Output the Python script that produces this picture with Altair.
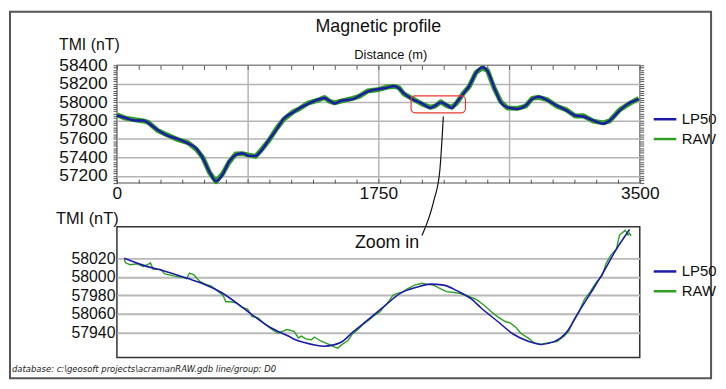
import altair as alt
import pandas as pd

# ---------------- data ----------------
SERIES = ["LP50", "RAW"]
COLORS = ["#1b1ba8", "#2f9e22"]

TOP_DIST = [0, 55, 121, 177, 210, 276, 331, 398, 475, 530, 575, 618, 663, 707, 751, 795,
            840, 884, 928, 961, 1016, 1072, 1116, 1182, 1213, 1279, 1357, 1390, 1423, 1456,
            1500, 1578, 1622, 1677, 1743, 1810, 1854, 1887, 1920, 1975, 2042, 2097, 2130,
            2168, 2207, 2241, 2274, 2318, 2358, 2404, 2448, 2481, 2526, 2570, 2614, 2680,
            2736, 2780, 2824, 2879, 2945, 3011, 3067, 3122, 3189, 3255, 3299, 3365, 3420, 3493]
TOP_LP50 = [57855, 57830, 57801, 57801, 57772, 57694, 57641, 57605, 57552, 57498, 57391, 57248,
            57141, 57213, 57355, 57427, 57445, 57416, 57416, 57462, 57587, 57712, 57819, 57890,
            57926, 57980, 58033, 58044, 58015, 57986, 58015, 58033, 58068, 58114, 58140, 58157,
            58175, 58151, 58097, 58033, 57986, 57937, 57962, 57997, 57969, 57937, 57997, 58087,
            58175, 58318, 58379, 58336, 58157, 57997, 57943, 57926, 57962, 58033, 58058, 58022,
            57962, 57908, 57855, 57844, 57801, 57766, 57801, 57908, 57980, 58033]
TOP_RAW = [57862, 57826, 57808, 57795, 57779, 57688, 57648, 57598, 57560, 57490, 57398, 57240,
           57136, 57220, 57348, 57436, 57440, 57424, 57410, 57470, 57580, 57720, 57812, 57898,
           57920, 57988, 58028, 58050, 58010, 57992, 58010, 58040, 58062, 58120, 58134, 58164,
           58170, 58158, 58090, 58040, 57980, 57944, 57956, 58004, 57962, 57944, 57990, 58094,
           58168, 58324, 58372, 58342, 58150, 58004, 57936, 57932, 57956, 58040, 58052, 58028,
           57955, 57915, 57848, 57852, 57794, 57774, 57795, 57915, 57974, 58040]

ZOOM_LP50_DIST = [1965, 1979, 1993, 2009, 2020, 2032, 2043, 2054, 2066, 2078, 2083, 2089, 2103,
                  2114, 2123, 2134, 2144, 2155, 2167, 2176, 2185, 2194, 2204, 2211, 2222, 2233,
                  2244, 2252, 2261, 2270, 2278, 2286, 2295, 2304, 2313]
ZOOM_LP50 = [58020, 58012, 58006, 57998, 57992, 57983, 57971, 57958, 57945, 57936, 57932, 57929,
             57925, 57929, 57941, 57955, 57968, 57982, 57989, 57992, 57991, 57985, 57976, 57966,
             57952, 57938, 57930, 57927, 57930, 57941, 57962, 57982, 58005, 58030, 58051]

ZOOM_RAW_DIST = [1965, 1966, 1969, 1974, 1978, 1982, 1983, 1985, 1990, 1993, 1999, 2006, 2008,
                 2010, 2013, 2017, 2021, 2025, 2029, 2033, 2035, 2038, 2042, 2046, 2050, 2053,
                 2057, 2061, 2067, 2071, 2077, 2082, 2085, 2087, 2090, 2094, 2096, 2100, 2103,
                 2106, 2110, 2112, 2115, 2119, 2122, 2126, 2129, 2134, 2137, 2141, 2144, 2147,
                 2150, 2153, 2156, 2160, 2165, 2170, 2173, 2178, 2183, 2187, 2192, 2196, 2202,
                 2208, 2213, 2218, 2222, 2227, 2231, 2235, 2238, 2243, 2247, 2252, 2257, 2263,
                 2268, 2271, 2274, 2278, 2282, 2286, 2290, 2294, 2297, 2300, 2304, 2306, 2310,
                 2312, 2313, 2314]
ZOOM_RAW = [58019, 58015, 58013, 58014, 58011, 58014, 58015, 58008, 58008, 58003, 58001, 57999,
            57998, 58004, 58002, 57995, 57992, 57990, 57985, 57980, 57973, 57973, 57972, 57967,
            57965, 57957, 57956, 57950, 57943, 57939, 57943, 57941, 57934, 57936, 57933, 57932,
            57935, 57931, 57929, 57927, 57924, 57923, 57927, 57931, 57938, 57943, 57948, 57954,
            57958, 57962, 57968, 57973, 57980, 57982, 57983, 57987, 57991, 57993, 57992, 57991,
            57987, 57984, 57983, 57982, 57979, 57975, 57969, 57962, 57957, 57952, 57950, 57945,
            57939, 57934, 57929, 57927, 57929, 57930, 57936, 57941, 57952, 57962, 57976, 57984,
            57994, 58001, 58015, 58023, 58030, 58045, 58050, 58045, 58047, 58044]

BOX_X = [1969, 2333]
BOX_Y = [57884, 58067]
CONN_X = [2185, 2161, 2121, 2042]
CONN_Y = [57844, 57249, 56926, 56550]
ZOOM_TEXT = ["Zoom in"]
ZOOM_TEXT_X = [2146]
ZOOM_TEXT_Y = [58036]

TITLE = "Magnetic profile"
X_TITLE = "Distance (m)"
Y_TITLE = "TMI (nT)"
FOOTER = ["database: c:\\geosoft projects\\acramanRAW.gdb  line/group: D0"]

X_DOMAIN = [0, 3500]
Y_DOMAIN_TOP = [57120, 58400]
X_DOMAIN_ZOOM = [1960, 2320]
Y_DOMAIN_ZOOM = [57913, 58054]
ZOOM_TICKS = [57940, 57960, 57980, 58000, 58020]

# ---------------- chart ----------------
FONT = "Liberation Sans, Arial, Helvetica, sans-serif"
W = 528
H1 = 119
H2 = 132

top_df = pd.DataFrame({
    "d": TOP_DIST + TOP_DIST,
    "v": TOP_LP50 + TOP_RAW,
    "series": ["LP50"] * len(TOP_DIST) + ["RAW"] * len(TOP_DIST),
})
zoom_df = pd.DataFrame({
    "d": ZOOM_LP50_DIST + ZOOM_RAW_DIST,
    "v": ZOOM_LP50 + ZOOM_RAW,
    "series": ["LP50"] * len(ZOOM_LP50_DIST) + ["RAW"] * len(ZOOM_RAW_DIST),
})
box_df = pd.DataFrame({"x": [BOX_X[0]], "x2": [BOX_X[1]], "y": [BOX_Y[0]], "y2": [BOX_Y[1]]})
conn_df = pd.DataFrame({"x": CONN_X, "y": CONN_Y})
text_df = pd.DataFrame({"t": ZOOM_TEXT, "x": ZOOM_TEXT_X, "y": ZOOM_TEXT_Y})
footer_df = pd.DataFrame({"t": FOOTER})
one_df = pd.DataFrame({"a": [0]})

xs = alt.Scale(domain=X_DOMAIN, nice=False, zero=False)
ys = alt.Scale(domain=Y_DOMAIN_TOP, nice=False, zero=False)
xs2 = alt.Scale(domain=X_DOMAIN_ZOOM, nice=False, zero=False)
ys2 = alt.Scale(domain=Y_DOMAIN_ZOOM, nice=False, zero=False)

x_tick_vals = [i * 875 / 6 for i in range(25)]
y_tick_vals = list(range(57125, 58401, 25))


def legend(ly):
    return alt.Legend(
        title=None, orient="none", legendX=546, legendY=ly, padding=0,
        symbolType="M-1.9,0H1.9", symbolSize=144, symbolStrokeWidth=2.5,
        labelFont=FONT, labelFontSize=15, labelColor="#111", labelOffset=9.5,
        rowPadding=4,
    )


color_top = alt.Color("series:N", scale=alt.Scale(domain=SERIES, range=COLORS), legend=legend(47))
color_zoom = alt.Color("series:N", scale=alt.Scale(domain=SERIES, range=COLORS), legend=legend(37.7))

x_bottom_axis = alt.Axis(
    orient="bottom", values=x_tick_vals,
    labelExpr="(abs(datum.value) < 1 || abs(datum.value - 1750) < 1 || abs(datum.value - 3500) < 1) ? format(datum.value, 'd') : ''",
    labelFont=FONT, labelFontSize=17.5, labelColor="#111", labelPadding=2,
    labelOverlap=False, labelFlush=False,
    tickSize=4, tickColor="#555", offset=-4, domain=False,
    grid=True, gridColor="#b4b4b4", gridWidth=1.5,
    gridOpacity={"condition": {"test": "abs(datum.value - 875) < 1 || abs(datum.value - 1750) < 1 || abs(datum.value - 2625) < 1", "value": 1}, "value": 0},
    title=None,
)
x_top_axis = alt.Axis(
    orient="top", values=x_tick_vals, labels=False, tickSize=4, tickColor="#555",
    offset=-4, domain=False, grid=False,
    title=X_TITLE, titleFont=FONT, titleFontSize=13, titleFontWeight="normal",
    titleColor="#111", titleX=276, titleY=-10.5, titleAlign="center",
    titleBaseline="alphabetic", titleAnchor="start",
)
y_left_axis = alt.Axis(
    orient="left", values=y_tick_vals,
    labelExpr="datum.value % 200 == 0 ? format(datum.value, 'd') : ''",
    labelFont=FONT, labelFontSize=17.5, labelColor="#111", labelPadding=6,
    labelOverlap=False, tickSize=4, tickColor="#555", domain=False,
    grid=True, gridColor="#b4b4b4", gridWidth=1.5,
    gridOpacity={"condition": {"test": "datum.value % 200 == 0 && datum.value < 58400", "value": 1}, "value": 0},
    title=Y_TITLE, titleFont=FONT, titleFontSize=16, titleFontWeight="normal", titleColor="#111",
    titleAngle=0, titleX=-59, titleY=-16, titleAlign="left", titleBaseline="alphabetic",
    titleAnchor="start",
)
y_right_axis = alt.Axis(
    orient="right", values=y_tick_vals, labels=False, tickSize=4, tickColor="#555",
    domain=False, grid=False, title=None,
)

raw_top = alt.Chart(top_df).transform_filter(alt.datum.series == "RAW").mark_line(
    strokeWidth=5, strokeJoin="round"
).encode(
    x=alt.X("d:Q", scale=xs, axis=x_bottom_axis),
    y=alt.Y("v:Q", scale=ys, axis=y_left_axis),
    color=color_top,
)
lp_top = alt.Chart(top_df).transform_filter(alt.datum.series == "LP50").mark_line(
    strokeWidth=2.5, strokeJoin="round", interpolate="monotone"
).encode(
    x=alt.X("d:Q", scale=xs, axis=x_top_axis),
    y=alt.Y("v:Q", scale=ys, axis=y_right_axis),
    color=color_top,
)
box = alt.Chart(box_df).mark_rect(
    fillOpacity=0, stroke="#e8392f", strokeWidth=1.2, cornerRadius=4
).encode(
    x=alt.X("x:Q", scale=xs, axis=None), x2="x2:Q",
    y=alt.Y("y:Q", scale=ys, axis=None), y2="y2:Q",
)
conn = alt.Chart(conn_df).mark_line(
    color="#111", strokeWidth=1.2, interpolate="monotone", clip=False
).encode(
    x=alt.X("x:Q", scale=xs, axis=None),
    y=alt.Y("y:Q", scale=ys, axis=None),
)

top = alt.layer(raw_top, lp_top, box, conn).resolve_axis(
    x="independent", y="independent"
).properties(
    width=W, height=H1,
    title=alt.TitleParams(TITLE, font=FONT, fontSize=18, fontWeight="normal", color="#111",
                          anchor="middle", frame="group", offset=1),
    view=alt.ViewBackground(stroke="#8a8a8a", strokeWidth=1.5),
)

y_zoom_axis = alt.Axis(
    orient="left", values=ZOOM_TICKS,
    labelExpr="datum.value == 57960 ? '58060' : format(datum.value, 'd')",
    labelFont=FONT, labelFontSize=16, labelColor="#111", labelPadding=2,
    labelOverlap=False,
    ticks=False, domain=False, grid=True, gridColor="#b8b8b8", gridWidth=2,
    title=Y_TITLE, titleFont=FONT, titleFontSize=16.5, titleFontWeight="normal", titleColor="#111",
    titleAngle=0, titleX=-62, titleY=-3, titleAlign="left", titleBaseline="alphabetic",
    titleAnchor="start",
)
raw_zoom = alt.Chart(zoom_df).transform_filter(alt.datum.series == "RAW").mark_line(
    strokeWidth=1.4
).encode(
    x=alt.X("d:Q", scale=xs2, axis=None),
    y=alt.Y("v:Q", scale=ys2, axis=y_zoom_axis),
    color=color_zoom,
)
lp_zoom = alt.Chart(zoom_df).transform_filter(alt.datum.series == "LP50").mark_line(
    strokeWidth=1.6, interpolate="monotone"
).encode(
    x=alt.X("d:Q", scale=xs2, axis=None),
    y=alt.Y("v:Q", scale=ys2, axis=y_zoom_axis),
    color=color_zoom,
)
ztext = alt.Chart(text_df).mark_text(
    font=FONT, fontSize=18, color="#111", align="center", baseline="middle"
).encode(
    x=alt.X("x:Q", scale=xs2, axis=None),
    y=alt.Y("y:Q", scale=ys2, axis=y_zoom_axis),
    text="t:N",
)
footer = alt.Chart(footer_df).mark_text(
    font="Liberation Sans Narrow, Arial Narrow, DejaVu Sans Condensed, Liberation Sans, Arial",
    fontSize=9.5, fontStyle="italic", color="#222", align="left", baseline="middle",
).encode(
    x=alt.value(-106), y=alt.value(144), text="t:N",
)
frame = alt.Chart(one_df).mark_rect(
    fillOpacity=0, stroke="#555", strokeWidth=2
).encode(
    x=alt.value(-108), x2=alt.value(600), y=alt.value(-217), y2=alt.value(153),
)
bottom = alt.layer(raw_zoom, lp_zoom, ztext, footer, frame).properties(
    width=W, height=H2,
    view=alt.ViewBackground(stroke="#333", strokeWidth=1.5),
)

chart = alt.vconcat(top, bottom, spacing=44, bounds="flush").resolve_scale(
    color="independent", x="independent", y="independent"
).properties(
    padding=0, background="white"
)

chart.save("out.html", embed_options={"renderer": "svg", "actions": False})
